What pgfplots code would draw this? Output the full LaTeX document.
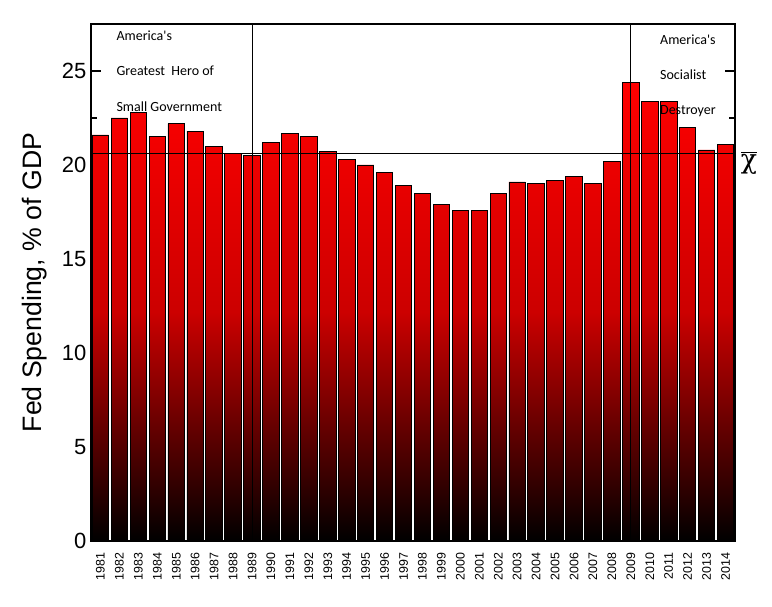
\documentclass[border=0pt]{standalone}
\usepackage{fontspec}
\setmainfont{Liberation Sans}
\newfontfamily\calib{Carlito}
\newfontfamily\symgreek{DejaVu Serif}
\usepackage{pgfplots}
\usepackage{pgfplotstable}
\pgfplotsset{compat=1.18}

% federal spending, % of GDP
\pgfplotstableread{
year val
1981 21.6
1982 22.5
1983 22.8
1984 21.5
1985 22.2
1986 21.8
1987 21.0
1988 20.6
1989 20.5
1990 21.2
1991 21.7
1992 21.5
1993 20.7
1994 20.3
1995 20.0
1996 19.6
1997 18.9
1998 18.5
1999 17.9
2000 17.6
2001 17.6
2002 18.5
2003 19.1
2004 19.0
2005 19.2
2006 19.4
2007 19.0
2008 20.2
2009 24.4
2010 23.4
2011 23.4
2012 22.0
2013 20.8
2014 21.1
}\spend

\begin{document}
\begin{tikzpicture}
\begin{axis}[
    scale only axis,
    width=483pt, height=387.75pt,
    xmin=-0.5, xmax=33.5,
    ymin=0, ymax=27.5,
    axis line style={line width=1.5pt},
    xtick=data,
    xticklabels from table={\spend}{year},
    major x tick style={draw=none},
    xticklabel shift=5.5pt,
    xticklabel style={rotate=90, anchor=east,
      font=\fontsize{9.3}{9.3}\selectfont},
    ytick={0,5,...,25},
    minor y tick num=1,
    ytick pos=both,
    tick align=inside,
    major tick length=7.5pt,
    minor tick length=4.5pt,
    y tick style={line width=1.2pt, black},
    yticklabel style={font=\fontsize{16.5}{16.5}\selectfont},
    /pgf/number format/assume math mode=true,
    every axis y label/.style={at={(rel axis cs:0,0.5)},
      xshift=-42pt, rotate=90, anchor=center},
    ylabel={Fed Spending, \% of GDP},
    ylabel style={font=\fontsize{20}{20}\selectfont},
    clip=false,
]
% middle color last, or bottom color resets it
\addplot[ybar, bar width=0.87, draw=black, line width=0.6pt,
  top color=red, bottom color=black, middle color=red!80!black]
  table[x expr=\coordindex, y=val] {\spend};

% average line and the two presidencies
\draw[black, line width=0.6pt] (axis cs:-0.5,20.6) -- (axis cs:33.5,20.6);
\draw[black, line width=0.6pt] (axis cs:8,0) -- (axis cs:8,27.5);
\draw[black, line width=0.6pt] (axis cs:28,0) -- (axis cs:28,27.5);

\node[anchor=west, font=\calib\fontsize{10.5}{12}\selectfont]
  at (axis cs:0.6,26.87) {America's};
\node[anchor=west, font=\calib\fontsize{10.5}{12}\selectfont]
  at (axis cs:0.6,25.0) {Greatest\ \ Hero of};
\node[anchor=west, font=\calib\fontsize{10.5}{12}\selectfont]
  at (axis cs:0.6,23.08) {Small Government};
\node[anchor=west, font=\calib\fontsize{10.5}{12}\selectfont]
  at (axis cs:29.3,26.65) {America's};
\node[anchor=west, font=\calib\fontsize{10.5}{12}\selectfont]
  at (axis cs:29.3,24.79) {Socialist};
\node[anchor=west, font=\calib\fontsize{10.5}{12}\selectfont]
  at (axis cs:29.3,22.87) {Destroyer};
\node[anchor=west, inner sep=0pt, font=\symgreek\fontsize{20}{20}\selectfont]
  at (axis cs:33.8,20.1) {$\overline{\mbox{χ}}$};

\coordinate (sw) at (rel axis cs:0,0);
\coordinate (ne) at (rel axis cs:1,1);
\end{axis}
\path ([shift={(-68.25pt,-48.75pt)}]sw) rectangle ([shift={(27.75pt,18pt)}]ne);
\end{tikzpicture}
\end{document}
